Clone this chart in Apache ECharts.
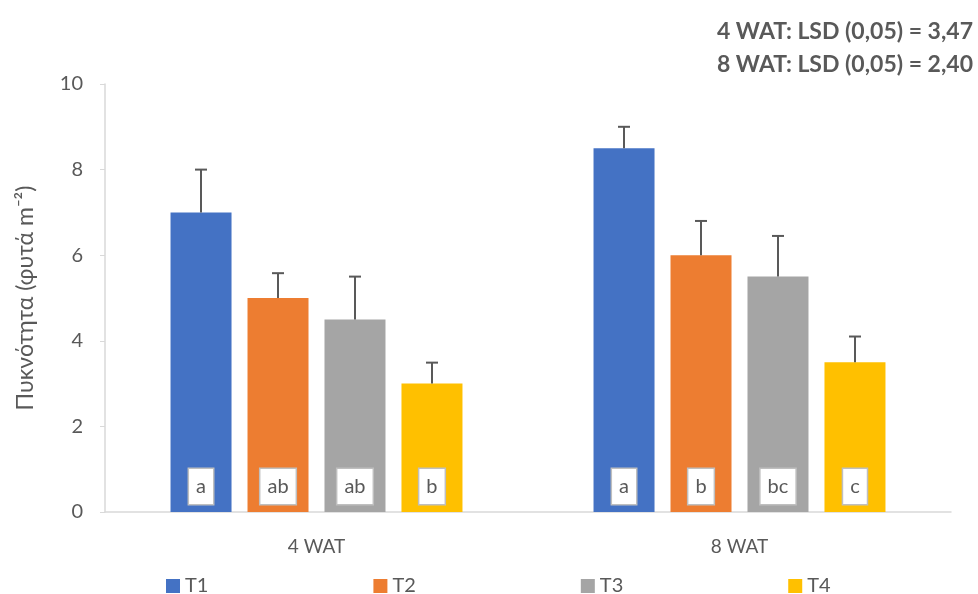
<!DOCTYPE html>
<html>
<head>
<meta charset="utf-8">
<script src="https://cdn.jsdelivr.net/npm/echarts@6/dist/echarts.min.js"></script>
<style>
  html, body { margin: 0; padding: 0; background: #fff; }
  #chart { width: 978px; height: 594px; }
</style>
</head>
<body>
<div id="chart"></div>
<script>
// Plant density per treatment, 4 and 8 weeks after treatment
const categories = ['4 WAT', '8 WAT'];
const treatments = ['T1', 'T2', 'T3', 'T4'];
const colors = ['#4472C4', '#ED7D31', '#A5A5A5', '#FFC000'];

const meanT1 = [7.0, 8.5];
const meanT2 = [5.0, 6.0];
const meanT3 = [4.5, 5.5];
const meanT4 = [3.0, 3.5];

const errT1 = [1.0, 0.5];
const errT2 = [0.58, 0.8];
const errT3 = [1.0, 0.95];
const errT4 = [0.49, 0.6];

const lettersT1 = ['a', 'a'];
const lettersT2 = ['ab', 'b'];
const lettersT3 = ['ab', 'bc'];
const lettersT4 = ['b', 'c'];

const yTicks = [0, 2, 4, 6, 8, 10];
const lsdLines = ['4 WAT: LSD (0,05) = 3,47', '8 WAT: LSD (0,05) = 2,40'];

const means = [meanT1, meanT2, meanT3, meanT4];
const errs = [errT1, errT2, errT3, errT4];
const letters = [lettersT1, lettersT2, lettersT3, lettersT4];

const FONT = 'Lato, "Open Sans", sans-serif';
const TEXT = '#595959';
const AXIS = '#D9D9D9';
const BAR_W = 61;
const GAP_PX = 16;

const chart = echarts.init(document.getElementById('chart'), null, { renderer: 'canvas' });

const series = [];
treatments.forEach((name, i) => {
  series.push({
    name: name,
    type: 'bar',
    barWidth: BAR_W,
    barGap: (GAP_PX / BAR_W * 100).toFixed(1) + '%',
    itemStyle: { color: colors[i] },
    data: means[i].map((v, k) => ({ value: v, letter: letters[i][k] })),
    label: {
      show: true,
      position: 'insideBottom',
      distance: 8,
      formatter: p => p.data.letter,
      fontFamily: FONT,
      fontSize: 20,
      color: TEXT,
      backgroundColor: '#fff',
      borderColor: '#BFBFBF',
      borderWidth: 1.5,
      lineHeight: 20,
      padding: [8, 7, 7, 7]
    },
    z: 2
  });
});

// error bars (upper whisker only), placed over each treatment's bar
treatments.forEach((name, i) => {
  series.push({
    name: name,
    type: 'custom',
    data: means[i].map((v, k) => [k, v, v + errs[i][k]]),
    z: 3,
    silent: true,
    renderItem: (params, api) => {
      const cat = api.value(0);
      const base = api.coord([cat, api.value(1)]);
      const top = api.coord([cat, api.value(2)]);
      const offset = (i - (treatments.length - 1) / 2) * (BAR_W + GAP_PX);
      const x = base[0] + offset;
      const cap = 6;
      const style = { stroke: '#595959', lineWidth: 2 };
      return {
        type: 'group',
        children: [
          { type: 'line', shape: { x1: x, y1: base[1], x2: x, y2: top[1] }, style },
          { type: 'line', shape: { x1: x - cap, y1: top[1], x2: x + cap, y2: top[1] }, style }
        ]
      };
    }
  });
});

chart.setOption({
  animation: false,
  textStyle: { fontFamily: FONT },
  grid: { left: 105, right: 27, top: 84, bottom: 82, containLabel: false },
  title: {
    text: lsdLines.join('\n'),
    right: 0,
    top: 10,
    textStyle: {
      fontFamily: FONT,
      fontSize: 23,
      fontWeight: 'bold',
      color: TEXT,
      lineHeight: 33,
      align: 'right'
    }
  },
  legend: {
    data: treatments,
    left: 161,
    top: 571,
    itemWidth: 14,
    itemHeight: 14,
    itemGap: 165,
    icon: 'rect',
    textStyle: { fontFamily: FONT, fontSize: 20, color: TEXT }
  },
  xAxis: {
    type: 'category',
    data: categories,
    axisLine: { lineStyle: { color: AXIS, width: 1.5 } },
    axisTick: { show: false },
    axisLabel: { fontFamily: FONT, fontSize: 19, color: TEXT, margin: 25 }
  },
  yAxis: {
    type: 'value',
    min: yTicks[0],
    max: yTicks[yTicks.length - 1],
    interval: yTicks[1] - yTicks[0],
    name: 'Πυκνότητα (φυτά m⁻²)',
    nameLocation: 'middle',
    nameGap: 68,
    nameTextStyle: { fontFamily: FONT, fontSize: 23, color: TEXT },
    axisLine: { show: true, lineStyle: { color: AXIS, width: 1.5 } },
    axisTick: { show: true, length: 5, lineStyle: { color: AXIS } },
    splitLine: { show: false },
    axisLabel: { fontFamily: FONT, fontSize: 20, color: TEXT, margin: 22 }
  },
  series: series
});
</script>
</body>
</html>
